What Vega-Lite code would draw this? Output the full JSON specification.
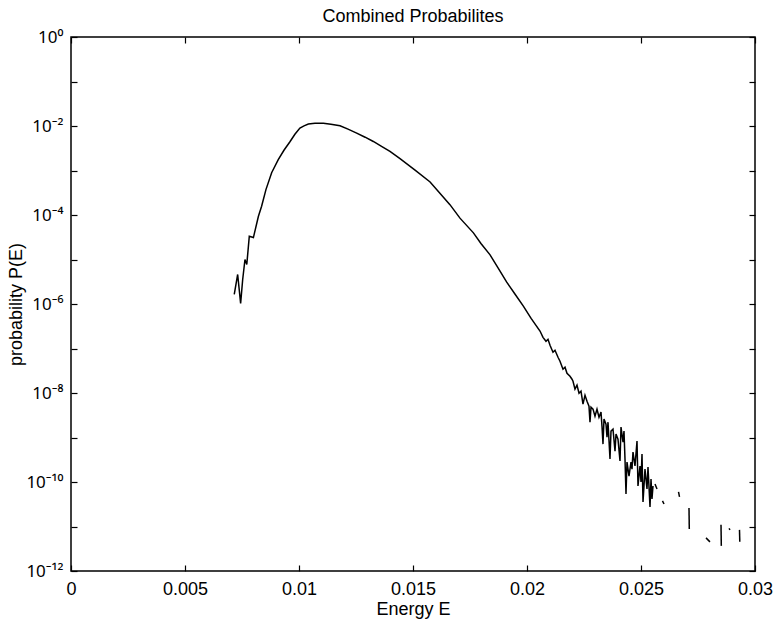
{
  "$schema": "https://vega.github.io/schema/vega-lite/v6.json",
  "width": 684,
  "height": 534,
  "autosize": {"type": "none"},
  "padding": {"left": 71, "top": 37, "right": 21, "bottom": 50},
  "background": "white",
  "title": {"text": "Combined Probabilites", "fontSize": 18, "font": "Liberation Sans", "fontWeight": "normal", "color": "black", "offset": 2},
  "config": {
    "view": {"stroke": "black", "strokeWidth": 1.5},
    "axis": {"grid": false, "domain": false, "tickColor": "black", "tickWidth": 1.2, "labelColor": "black", "titleColor": "black", "labelFont": "Liberation Sans", "titleFont": "Liberation Sans", "labelFontSize": 18, "titleFontSize": 18, "titleFontWeight": "normal", "tickSize": 6, "offset": -6, "labelFlush": false, "labelOverlap": false}
  },
  "data": {"values": [
    {"E": 0.00716, "P": 1.64e-6, "seg": "a"},
    {"E": 0.00731, "P": 4.61e-6, "seg": "a"},
    {"E": 0.00744, "P": 1.03e-6, "seg": "a"},
    {"E": 0.00753, "P": 3.56e-6, "seg": "a"},
    {"E": 0.00763, "P": 1.0e-5, "seg": "a"},
    {"E": 0.00771, "P": 7.73e-6, "seg": "a"},
    {"E": 0.00782, "P": 3.33e-5, "seg": "a"},
    {"E": 0.00800, "P": 3.11e-5, "seg": "a"},
    {"E": 0.00822, "P": 9.35e-5, "seg": "a"},
    {"E": 0.00836, "P": 1.57e-4, "seg": "a"},
    {"E": 0.00855, "P": 3.72e-4, "seg": "a"},
    {"E": 0.00880, "P": 8.93e-4, "seg": "a"},
    {"E": 0.00909, "P": 1.75e-3, "seg": "a"},
    {"E": 0.00934, "P": 2.85e-3, "seg": "a"},
    {"E": 0.00961, "P": 4.49e-3, "seg": "a"},
    {"E": 0.00982, "P": 6.52e-3, "seg": "a"},
    {"E": 0.01004, "P": 8.97e-3, "seg": "a"},
    {"E": 0.01022, "P": 1.01e-2, "seg": "a"},
    {"E": 0.01041, "P": 1.104e-2, "seg": "a"},
    {"E": 0.01070, "P": 1.15e-2, "seg": "a"},
    {"E": 0.01107, "P": 1.16e-2, "seg": "a"},
    {"E": 0.01140, "P": 1.10e-2, "seg": "a"},
    {"E": 0.01180, "P": 1.01e-2, "seg": "a"},
    {"E": 0.01215, "P": 8.5e-3, "seg": "a"},
    {"E": 0.01253, "P": 6.93e-3, "seg": "a"},
    {"E": 0.01290, "P": 5.6e-3, "seg": "a"},
    {"E": 0.01326, "P": 4.49e-3, "seg": "a"},
    {"E": 0.01362, "P": 3.5e-3, "seg": "a"},
    {"E": 0.01399, "P": 2.68e-3, "seg": "a"},
    {"E": 0.01443, "P": 1.84e-3, "seg": "a"},
    {"E": 0.01509, "P": 1.02e-3, "seg": "a"},
    {"E": 0.01575, "P": 5.52e-4, "seg": "a"},
    {"E": 0.01618, "P": 3.10e-4, "seg": "a"},
    {"E": 0.01662, "P": 1.71e-4, "seg": "a"},
    {"E": 0.01706, "P": 8.5e-5, "seg": "a"},
    {"E": 0.01765, "P": 3.97e-5, "seg": "a"},
    {"E": 0.01798, "P": 2.29e-5, "seg": "a"},
    {"E": 0.01838, "P": 1.27e-5, "seg": "a"},
    {"E": 0.01873, "P": 6.45e-6, "seg": "a"},
    {"E": 0.01911, "P": 3.10e-6, "seg": "a"},
    {"E": 0.01947, "P": 1.68e-6, "seg": "a"},
    {"E": 0.01984, "P": 8.97e-7, "seg": "a"},
    {"E": 0.02018, "P": 4.75e-7, "seg": "a"},
    {"E": 0.020570, "P": 2.47e-7, "seg": "a"},
    {"E": 0.020702, "P": 1.78e-7, "seg": "a"},
    {"E": 0.020833, "P": 1.45e-7, "seg": "a"},
    {"E": 0.020921, "P": 1.61e-7, "seg": "a"},
    {"E": 0.021009, "P": 1.18e-7, "seg": "a"},
    {"E": 0.021140, "P": 8.22e-8, "seg": "a"},
    {"E": 0.021228, "P": 9.12e-8, "seg": "a"},
    {"E": 0.021360, "P": 6.35e-8, "seg": "a"},
    {"E": 0.021447, "P": 5.16e-8, "seg": "a"},
    {"E": 0.021579, "P": 3.42e-8, "seg": "a"},
    {"E": 0.021667, "P": 3.79e-8, "seg": "a"},
    {"E": 0.021754, "P": 2.78e-8, "seg": "a"},
    {"E": 0.021886, "P": 2.38e-8, "seg": "a"},
    {"E": 0.021974, "P": 2.04e-8, "seg": "a"},
    {"E": 0.022018, "P": 1.84e-8, "seg": "a"},
    {"E": 0.022105, "P": 1.22e-8, "seg": "a"},
    {"E": 0.022193, "P": 1.50e-8, "seg": "a"},
    {"E": 0.022281, "P": 9.9e-9, "seg": "a"},
    {"E": 0.022368, "P": 1.10e-8, "seg": "a"},
    {"E": 0.022456, "P": 5.61e-9, "seg": "a"},
    {"E": 0.022544, "P": 8.93e-9, "seg": "a"},
    {"E": 0.022632, "P": 6.55e-9, "seg": "a"},
    {"E": 0.022719, "P": 5.06e-9, "seg": "a"},
    {"E": 0.022763, "P": 2.21e-9, "seg": "a"},
    {"E": 0.022807, "P": 4.81e-9, "seg": "a"},
    {"E": 0.022895, "P": 4.34e-9, "seg": "a"},
    {"E": 0.022982, "P": 3.02e-9, "seg": "a"},
    {"E": 0.023070, "P": 4.34e-9, "seg": "a"},
    {"E": 0.023158, "P": 2.86e-9, "seg": "a"},
    {"E": 0.023246, "P": 3.72e-9, "seg": "a"},
    {"E": 0.023289, "P": 1.80e-9, "seg": "a"},
    {"E": 0.023333, "P": 7.11e-10, "seg": "a"},
    {"E": 0.023377, "P": 2.59e-9, "seg": "a"},
    {"E": 0.023465, "P": 2.00e-9, "seg": "a"},
    {"E": 0.023509, "P": 1.02e-9, "seg": "a"},
    {"E": 0.023553, "P": 2.21e-9, "seg": "a"},
    {"E": 0.023640, "P": 3.28e-10, "seg": "a"},
    {"E": 0.023684, "P": 1.39e-9, "seg": "a"},
    {"E": 0.023772, "P": 1.54e-9, "seg": "a"},
    {"E": 0.023860, "P": 4.95e-10, "seg": "a"},
    {"E": 0.023904, "P": 1.19e-9, "seg": "a"},
    {"E": 0.023991, "P": 9.2e-10, "seg": "a"},
    {"E": 0.024079, "P": 2.96e-10, "seg": "a"},
    {"E": 0.024123, "P": 1.71e-9, "seg": "a"},
    {"E": 0.024211, "P": 7.89e-10, "seg": "a"},
    {"E": 0.024254, "P": 1.39e-9, "seg": "a"},
    {"E": 0.024298, "P": 3.28e-10, "seg": "a"},
    {"E": 0.024342, "P": 5.38e-11, "seg": "a"},
    {"E": 0.024386, "P": 2.81e-10, "seg": "a"},
    {"E": 0.024474, "P": 1.36e-10, "seg": "a"},
    {"E": 0.024561, "P": 2.81e-10, "seg": "a"},
    {"E": 0.024605, "P": 1.95e-10, "seg": "a"},
    {"E": 0.024649, "P": 4.71e-10, "seg": "a"},
    {"E": 0.024737, "P": 2.29e-10, "seg": "a"},
    {"E": 0.024825, "P": 8.30e-10, "seg": "a"},
    {"E": 0.024868, "P": 8.13e-11, "seg": "a"},
    {"E": 0.024956, "P": 2.29e-10, "seg": "a"},
    {"E": 0.025000, "P": 1.0e-10, "seg": "a"},
    {"E": 0.025044, "P": 4.25e-10, "seg": "a"},
    {"E": 0.025088, "P": 3.56e-11, "seg": "a"},
    {"E": 0.025175, "P": 1.95e-10, "seg": "a"},
    {"E": 0.025263, "P": 6.97e-11, "seg": "a"},
    {"E": 0.025307, "P": 2.17e-10, "seg": "a"},
    {"E": 0.025395, "P": 2.75e-11, "seg": "a"},
    {"E": 0.025439, "P": 1.17e-10, "seg": "a"},
    {"E": 0.025482, "P": 4.16e-11, "seg": "a"},
    {"E": 0.025526, "P": 8.13e-11, "seg": "a"},
    {"E": 0.025614, "P": 9.02e-11, "seg": "b"},
    {"E": 0.025702, "P": 6.97e-11, "seg": "b"},
    {"E": 0.025943, "P": 3.75e-11, "seg": "c"},
    {"E": 0.026009, "P": 3.21e-11, "seg": "c"},
    {"E": 0.026645, "P": 5.97e-11, "seg": "d"},
    {"E": 0.026689, "P": 4.61e-11, "seg": "d"},
    {"E": 0.027105, "P": 2.61e-11, "seg": "e"},
    {"E": 0.027118, "P": 8.83e-12, "seg": "e"},
    {"E": 0.027851, "P": 5.55e-12, "seg": "f"},
    {"E": 0.028026, "P": 4.52e-12, "seg": "f"},
    {"E": 0.028509, "P": 1.09e-11, "seg": "g"},
    {"E": 0.028522, "P": 3.67e-12, "seg": "g"},
    {"E": 0.028860, "P": 9.06e-12, "seg": "h"},
    {"E": 0.028904, "P": 8.39e-12, "seg": "h"},
    {"E": 0.029320, "P": 8.39e-12, "seg": "i"},
    {"E": 0.029333, "P": 4.52e-12, "seg": "i"}
  ]},
  "layer": [
    {
      "mark": {"type": "line", "color": "black", "strokeWidth": 1.5},
      "encoding": {
        "x": {"field": "E", "type": "quantitative", "scale": {"domain": [0, 0.03], "nice": false, "zero": false},
          "axis": {"orient": "bottom", "title": "Energy E", "values": [0, 0.005, 0.01, 0.015, 0.02, 0.025, 0.03], "labelExpr": "format(datum.value, '~g')", "labelPadding": 9, "titlePadding": 2}},
        "y": {"field": "P", "type": "quantitative", "scale": {"type": "log", "domain": [1e-12, 1], "nice": false},
          "axis": {"orient": "left", "title": "probability P(E)", "values": [1, 1e-1, 1e-2, 1e-3, 1e-4, 1e-5, 1e-6, 1e-7, 1e-8, 1e-9, 1e-10, 1e-11, 1e-12], "labelFont": "Noto Sans", "labelFontSize": 17, "labelExpr": "['10⁰','','10⁻²','','10⁻⁴','','10⁻⁶','','10⁻⁸','','10⁻¹⁰','','10⁻¹²'][-round(log(datum.value)/LN10)]", "labelPadding": 8, "titlePadding": 0}},
        "detail": {"field": "seg", "type": "nominal"}
      }
    },
    {
      "mark": {"type": "line", "color": "black", "strokeWidth": 1.5, "opacity": 0},
      "encoding": {
        "x": {"field": "E", "type": "quantitative", "scale": {"domain": [0, 0.03], "nice": false, "zero": false},
          "axis": {"orient": "top", "title": null, "values": [0, 0.005, 0.01, 0.015, 0.02, 0.025, 0.03], "labels": false}},
        "y": {"field": "P", "type": "quantitative", "scale": {"type": "log", "domain": [1e-12, 1], "nice": false},
          "axis": {"orient": "right", "title": null, "values": [1, 1e-1, 1e-2, 1e-3, 1e-4, 1e-5, 1e-6, 1e-7, 1e-8, 1e-9, 1e-10, 1e-11, 1e-12], "labels": false}},
        "detail": {"field": "seg", "type": "nominal"}
      }
    }
  ],
  "resolve": {"axis": {"x": "independent", "y": "independent"}}
}
